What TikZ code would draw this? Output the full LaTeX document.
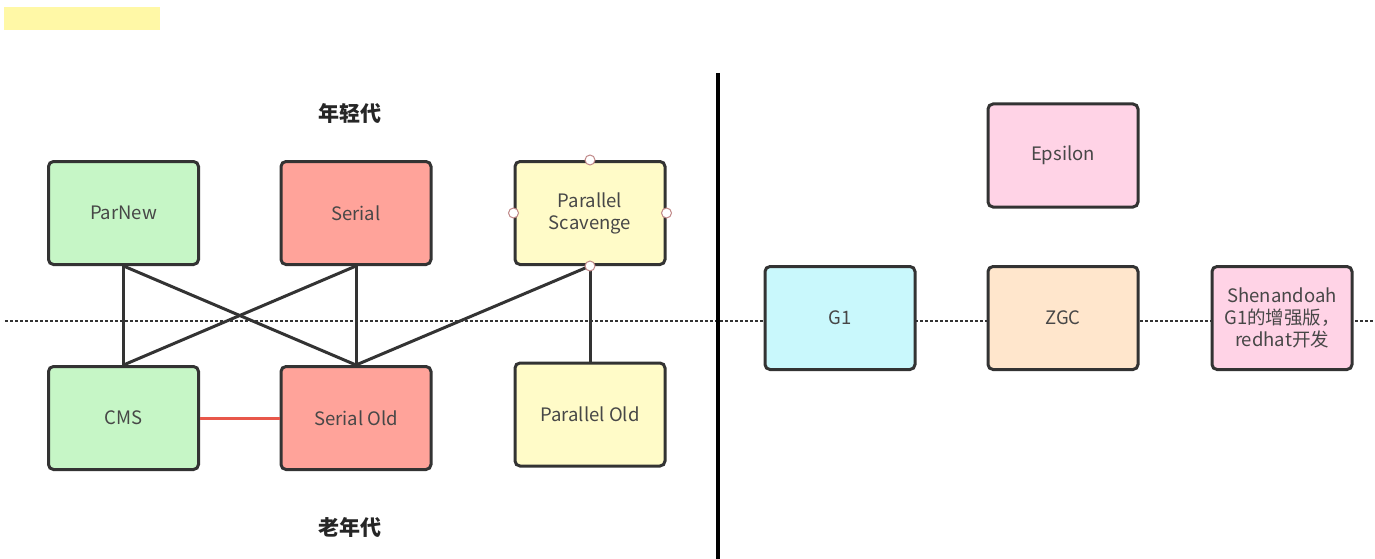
\documentclass[tikz,border=0pt]{standalone}
\usepackage{fontspec}
\setmainfont{Noto Sans CJK SC}
\definecolor{cgreen}{HTML}{C6F6C6}
\definecolor{cred}{HTML}{FFA39A}
\definecolor{cyellow}{HTML}{FFFBC8}
\definecolor{cpink}{HTML}{FFD3E6}
\definecolor{ccyan}{HTML}{C9F8FC}
\definecolor{cpeach}{HTML}{FFE6CC}
\definecolor{chl}{HTML}{FFF8A6}
\definecolor{cline}{HTML}{333333}
\definecolor{credline}{HTML}{E8574A}
\definecolor{chandle}{HTML}{C08888}
\begin{document}
\begin{tikzpicture}[x=1pt,y=-1pt,
  box/.style={draw=cline, line width=3pt, rounded corners=5pt, minimum width=150pt, minimum height=103pt, inner sep=0pt, align=center, font=\fontsize{18.5}{22}\selectfont, text=black!72},
  link/.style={line width=3pt, draw=cline},
  handle/.style={circle, draw=chandle, fill=white, line width=1pt, minimum size=10pt, inner sep=0pt},
  title/.style={font=\bfseries\fontsize{21}{25}\selectfont, text=black!85}]
\useasboundingbox (0,0) rectangle (1375,559);
\node[fill=chl, minimum width=156pt, minimum height=23pt, inner sep=0pt] (hl) at (82,18.5) {};
\coordinate (dl) at (5,321);
\coordinate (dr) at (1375,321);
\draw[line width=2.5pt, cline, dash pattern=on 2.5pt off 2.5pt] (dl) -- (dr);
\coordinate (vt) at (718,73);
\coordinate (vb) at (718,559);
\draw[line width=4.5pt, black] (vt) -- (vb);
\node[title] (young) at (350,113) {年轻代};
\node[title] (old) at (350,527) {老年代};
\node[box, fill=cgreen] (parnew) at (123.5,213) {ParNew};
\node[box, fill=cred] (serial) at (356,213) {Serial};
\node[box, fill=cyellow] (ps) at (590,213) {Parallel\\Scavenge};
\node[box, fill=cgreen] (cms) at (123.5,418) {CMS};
\node[box, fill=cred] (serialold) at (356,418) {Serial Old};
\node[box, fill=cyellow] (pold) at (590,414.5) {Parallel Old};
\node[box, fill=cpink] (eps) at (1063,155.5) {Epsilon};
\node[box, fill=ccyan] (g1) at (840,318) {G1};
\node[box, fill=cpeach] (zgc) at (1063,318) {ZGC};
\node[box, fill=cpink, minimum width=140pt] (shen) at (1282,318) {Shenandoah\\G1的增强版，\\redhat开发};
\draw[link] (parnew.south) -- (cms.north);
\draw[link] (parnew.south) -- (serialold.north);
\draw[link] (serial.south) -- (cms.north);
\draw[link] (serial.south) -- (serialold.north);
\draw[link] (ps.south) -- (serialold.north);
\draw[link] (ps.south) -- (pold.north);
\draw[line width=3pt, credline] (cms.east) -- (serialold.west);
\node[handle] (h1) at (ps.north) {};
\node[handle] (h2) at (ps.west) {};
\node[handle] (h3) at (ps.east) {};
\node[handle] (h4) at (ps.south) {};
\end{tikzpicture}
\end{document}
